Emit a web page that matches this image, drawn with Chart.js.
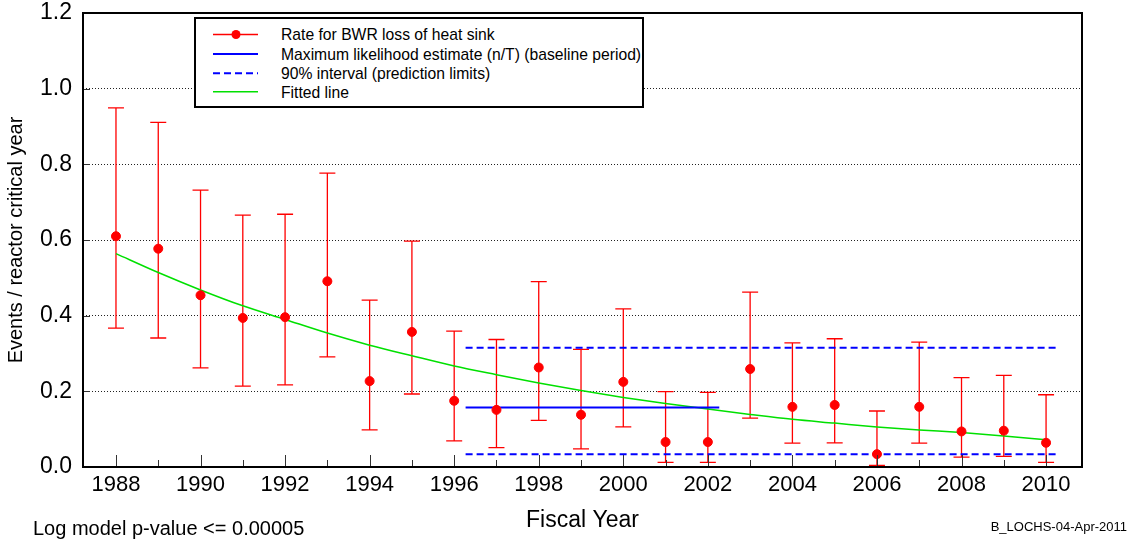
<!DOCTYPE html>
<html>
<head>
<meta charset="utf-8">
<title>BWR loss of heat sink</title>
<script src="https://cdn.jsdelivr.net/npm/chart.js@4.4.1/dist/chart.umd.min.js"></script>
<style>
  body { margin: 0; background: #fff; font-family: Arial, "Liberation Sans", sans-serif; }
  #wrap { position: relative; width: 1132px; height: 542px; }
  #legend { position: absolute; left: 194px; top: 17px; width: 446px; height: 87px;
            border: 2px solid #000; background: #fff; }
  #legend svg { position: absolute; left: 0; top: 0; }
  .row { position: absolute; left: 85px; height: 19px; line-height: 19px; font-size: 15.7px; white-space: nowrap; color: #000; }
  .note { position: absolute; white-space: nowrap; color: #000; }
</style>
</head>
<body>
<div id="wrap">
  <canvas id="chart" width="1132" height="542"></canvas>

  <!-- Leyenda dibujada a mano dentro del área del gráfico -->
  <div id="legend">
    <svg width="80" height="87">
      <line x1="17" y1="15.5" x2="62" y2="15.5" stroke="#ff0000" stroke-width="1.3"/>
      <circle cx="40" cy="15.5" r="4.5" fill="#ff0000"/>
      <line x1="17" y1="35" x2="62" y2="35" stroke="#0000ff" stroke-width="2"/>
      <line x1="17" y1="54.3" x2="62" y2="54.3" stroke="#0000ff" stroke-width="2" stroke-dasharray="7 4"/>
      <line x1="17" y1="72.7" x2="62" y2="72.7" stroke="#00e000" stroke-width="1.5"/>
    </svg>
    <div class="row" style="top:6px">Rate for BWR loss of heat sink</div>
    <div class="row" style="top:25.5px">Maximum likelihood estimate (n/T) (baseline period)</div>
    <div class="row" style="top:45px">90% interval (prediction limits)</div>
    <div class="row" style="top:63.5px">Fitted line</div>
  </div>

  <div class="note" style="left:33px; top:518px; font-size:20px; line-height:20px;">Log model p-value &lt;= 0.00005</div>
  <div class="note" style="right:5px; top:520px; font-size:13px; line-height:13px;">B_LOCHS-04-Apr-2011</div>
</div>

<script>
// Datos
const years = [1988, 1989, 1990, 1991, 1992, 1993, 1994, 1995, 1996, 1997, 1998, 1999,
               2000, 2001, 2002, 2003, 2004, 2005, 2006, 2007, 2008, 2009, 2010];
const rate  = [0.610, 0.577, 0.454, 0.394, 0.396, 0.491, 0.227, 0.357, 0.175, 0.151, 0.263, 0.138,
               0.225, 0.066, 0.066, 0.259, 0.159, 0.164, 0.034, 0.159, 0.094, 0.096, 0.064];
const upper = [0.949, 0.911, 0.732, 0.666, 0.668, 0.777, 0.441, 0.597, 0.359, 0.337, 0.490, 0.311,
               0.418, 0.199, 0.197, 0.462, 0.328, 0.339, 0.148, 0.330, 0.236, 0.242, 0.191];
const lower = [0.367, 0.341, 0.262, 0.214, 0.217, 0.291, 0.098, 0.193, 0.069, 0.051, 0.123, 0.048,
               0.106, 0.012, 0.012, 0.129, 0.063, 0.064, 0.004, 0.063, 0.026, 0.028, 0.012];
const fitted = [0.564, 0.514, 0.468, 0.426, 0.390, 0.354, 0.322, 0.294, 0.267, 0.244, 0.222, 0.202,
                0.184, 0.168, 0.153, 0.139, 0.126, 0.116, 0.106, 0.098, 0.091, 0.082, 0.072];

// Estimación de máxima verosimilitud (periodo base) y límites de predicción del 90%
const mleRange = [1996.27, 2002.27];
const mleValue = 0.157;
const limitRange = [1996.27, 2010.3];
const limitUpper = 0.315;
const limitLower = 0.034;

const yTicks = [0, 0.2, 0.4, 0.6, 0.8, 1.0, 1.2];

Chart.defaults.font.family = 'Arial, "Liberation Sans", sans-serif';
Chart.defaults.color = '#000';

// Barras de error (intervalos) para cada año
const errorBars = {
    id: 'errorBars',
    beforeDatasetsDraw(chart) {
        const { ctx, scales: { x, y } } = chart;
        ctx.save();
        ctx.strokeStyle = '#ff0000';
        ctx.lineWidth = 1.3;
        years.forEach((yr, i) => {
            const px = x.getPixelForValue(yr);
            const top = y.getPixelForValue(upper[i]);
            const bot = y.getPixelForValue(lower[i]);
            ctx.beginPath();
            ctx.moveTo(px, top); ctx.lineTo(px, bot);
            ctx.moveTo(px - 8, top); ctx.lineTo(px + 8, top);
            ctx.moveTo(px - 8, bot); ctx.lineTo(px + 8, bot);
            ctx.stroke();
        });
        ctx.restore();
    }
};

// Marco negro y marcas de los ejes hacia dentro
const frame = {
    id: 'frame',
    afterDraw(chart) {
        const { ctx, chartArea: a, scales: { x, y } } = chart;
        ctx.save();
        ctx.strokeStyle = '#333';
        ctx.lineWidth = 1;
        ctx.beginPath();
        years.forEach(yr => {
            const px = Math.round(x.getPixelForValue(yr)) + 0.5;
            const len = yr % 2 === 0 ? 12 : 7;
            ctx.moveTo(px, a.bottom);
            ctx.lineTo(px, a.bottom - len);
        });
        yTicks.forEach(v => {
            const py = Math.round(y.getPixelForValue(v)) + 0.5;
            ctx.moveTo(a.left, py);
            ctx.lineTo(a.left + 7, py);
        });
        ctx.stroke();
        ctx.strokeStyle = '#000';
        ctx.lineWidth = 2;
        ctx.strokeRect(a.left, a.top, a.right - a.left, a.bottom - a.top);
        ctx.restore();
    }
};

const ctx = document.getElementById('chart').getContext('2d');
new Chart(ctx, {
    type: 'scatter',
    data: {
        datasets: [
            {
                label: 'Rate for BWR loss of heat sink',
                data: years.map((yr, i) => ({ x: yr, y: rate[i] })),
                showLine: false,
                pointRadius: 4.5,
                pointBackgroundColor: '#ff0000',
                pointBorderColor: '#ff0000',
                pointBorderWidth: 1
            },
            {
                label: 'Maximum likelihood estimate (n/T) (baseline period)',
                data: mleRange.map(v => ({ x: v, y: mleValue })),
                showLine: true,
                borderColor: '#0000ff',
                borderWidth: 2,
                pointRadius: 0
            },
            {
                label: '90% interval (prediction limits)',
                data: limitRange.map(v => ({ x: v, y: limitUpper })),
                showLine: true,
                borderColor: '#0000ff',
                borderWidth: 2,
                borderDash: [7, 4],
                pointRadius: 0
            },
            {
                label: '90% interval (lower)',
                data: limitRange.map(v => ({ x: v, y: limitLower })),
                showLine: true,
                borderColor: '#0000ff',
                borderWidth: 2,
                borderDash: [7, 4],
                pointRadius: 0
            },
            {
                label: 'Fitted line',
                data: years.map((yr, i) => ({ x: yr, y: fitted[i] })),
                showLine: true,
                borderColor: '#00e000',
                borderWidth: 1.5,
                cubicInterpolationMode: 'monotone',
                pointRadius: 0
            }
        ]
    },
    options: {
        responsive: false,
        devicePixelRatio: 1,
        animation: false,
        layout: { padding: { top: 13, right: 50, left: 0, bottom: 0 } },
        plugins: {
            legend: { display: false },
            tooltip: { enabled: false }
        },
        scales: {
            x: {
                type: 'linear',
                min: 1987.22,
                max: 2010.85,
                afterBuildTicks: scale => {
                    scale.ticks = years.filter(v => v % 2 === 0).map(v => ({ value: v }));
                },
                afterFit: scale => { scale.height = 75; },
                grid: { display: false, drawTicks: false },
                border: { display: false },
                ticks: {
                    font: { size: 22 },
                    padding: 5,
                    maxRotation: 0,
                    autoSkip: false,
                    callback: v => String(v)
                },
                title: {
                    display: true,
                    text: 'Fiscal Year',
                    font: { size: 23 },
                    padding: { top: 0, bottom: 8 }
                }
            },
            y: {
                min: 0,
                max: 1.2,
                afterBuildTicks: scale => {
                    scale.ticks = yTicks.map(v => ({ value: v }));
                },
                afterFit: scale => {
                    scale.width = 83;
                    scale.paddingTop = 0;
                    scale.paddingBottom = 0;
                },
                grid: {
                    drawTicks: false,
                    lineWidth: 1,
                    color: c => (c.tick && (c.tick.value === 0 || c.tick.value === 1.2)) ? 'rgba(0,0,0,0)' : '#222'
                },
                border: { display: false, dash: [1, 2] },
                ticks: {
                    font: { size: 23 },
                    padding: 11,
                    callback: v => v.toFixed(1)
                },
                title: {
                    display: true,
                    text: 'Events / reactor critical year',
                    font: { size: 20 },
                    padding: { top: 4, bottom: 0 }
                }
            }
        }
    },
    plugins: [errorBars, frame]
});
</script>
</body>
</html>
